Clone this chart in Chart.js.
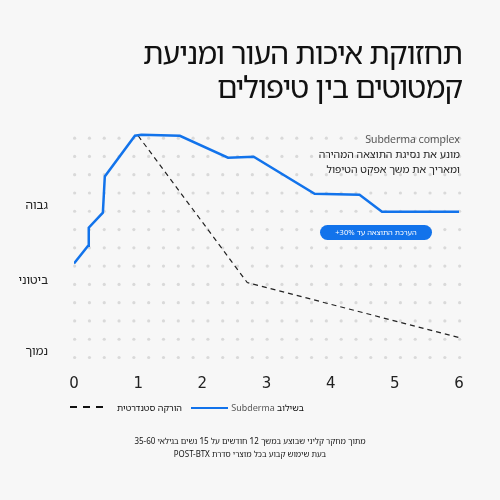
<!DOCTYPE html>
<html><head><meta charset="utf-8">
<script src="https://cdn.jsdelivr.net/npm/chart.js@4.4.0/dist/chart.umd.min.js"></script>
<style>
body{margin:0;background:#f7f7f7;font-family:"Noto Sans Hebrew","Noto Sans","DejaVu Sans",sans-serif;}
#w{position:relative;width:500px;height:500px;}
canvas{position:absolute;left:0;top:0;}
.t{position:absolute;direction:rtl;color:#111;}
</style></head><body>
<div id="w">
<canvas id="c" width="500" height="500"></canvas>
<div class="t" style="right:38px;top:36px;font-size:30px;line-height:34px;letter-spacing:-1px;text-align:right;">תחזוקת איכות העור ומניעת<br>קמטוטים בין טיפולים</div>
<div class="t" style="right:40px;top:132px;font-size:10.5px;line-height:15px;text-align:right;color:#222;"><span style="color:#555">Subderma complex</span><br>מונע את נסיגת התוצאה המהירה<br>ומאריך את משך אפקט הטיפול</div>
<div class="t" style="left:320px;top:225px;width:112px;height:15px;border-radius:8px;background:#1273eb;color:#fff;font-size:7.5px;line-height:15px;text-align:center;">הערכת התוצאה עד 30%+</div>
<div class="t" style="left:236px;width:68px;top:401px;font-size:9px;white-space:nowrap;">בשילוב <span style="color:#555">Subderma</span></div>
<div style="position:absolute;left:191px;top:407px;width:37px;height:2px;background:#1273eb"></div>
<div class="t" style="left:116px;width:66px;top:401px;font-size:9px;white-space:nowrap;">הורקה סטנדרטית</div>
<div style="position:absolute;left:70px;top:406px;width:38px;height:2px;background:repeating-linear-gradient(90deg,#111 0 7px,transparent 7px 13px)"></div>
<div class="t" style="left:0;width:500px;top:434px;font-size:8px;line-height:13px;text-align:center;">מתוך מחקר קליני שבוצע במשך 12 חודשים על 15 נשים בגילאי 35-60<br>בעת שימוש קבוע בכל מוצרי סדרת POST-BTX</div>
</div>
<script>
const xTicks=[0,1,2,3,4,5,6];
const yTickVals=[8.3,4.2,0.3];
const yTickLabels=['גבוה','ביטוני','נמוך'];
const subdermaX=[0,0.22,0.23,0.45,0.48,0.95,1.05,1.65,2.4,2.8,3.75,4.45,4.8,6];
const subdermaY=[5.14,6.12,7.1,7.92,9.9,12.13,12.19,12.13,10.93,10.98,8.96,8.9,7.98,7.98];
const standardX=[1.0,2.7,6];
const standardY=[12.13,4.1,1.09];
const dotCols=27, dotRows=13;
const dotsPlugin={id:'dots',beforeDatasetsDraw(ch){
 const {ctx,scales:{x,y}}=ch;ctx.save();ctx.fillStyle='#d9d9d9';
 for(let i=0;i<dotCols;i++)for(let j=0;j<dotRows;j++){
  const px=x.getPixelForValue(i*6/(dotCols-1)+0.01), py=y.getPixelForValue(j);
  ctx.beginPath();ctx.arc(px,py,1.6,0,Math.PI*2);ctx.fill();}
 ctx.restore();}};
new Chart(document.getElementById('c'),{type:'scatter',
 data:{datasets:[
  {data:subdermaX.map((v,i)=>({x:v,y:subdermaY[i]})),showLine:true,borderColor:'#1273eb',borderWidth:2.5,pointRadius:0,tension:0},
  {data:standardX.map((v,i)=>({x:v,y:standardY[i]})),showLine:true,borderColor:'#222',borderWidth:1.2,borderDash:[5,4],pointRadius:0,tension:0}]},
 options:{responsive:false,animation:false,events:[],
  layout:{padding:{left:14,right:41,top:129,bottom:106}},
  plugins:{legend:{display:false},tooltip:{enabled:false}},
  scales:{
   x:{type:'linear',min:0,max:6,grid:{display:false},border:{display:false},
      afterBuildTicks:s=>{s.ticks=xTicks.map(v=>({value:v}));},
      afterFit:s=>{s.height=31;},
      ticks:{color:'#222',font:{size:15,family:'"DejaVu Sans",sans-serif'},padding:4}},
   y:{min:-0.3,max:12.5,grid:{display:false},border:{display:false},
      afterBuildTicks:s=>{s.ticks=yTickVals.map(v=>({value:v}));},
      afterFit:s=>{s.width=60;},
      ticks:{color:'#222',font:{size:12,family:'"Noto Sans Hebrew","DejaVu Sans",sans-serif'},padding:18,
        callback:(v)=>yTickLabels[yTickVals.indexOf(v)]}}}},
 plugins:[dotsPlugin]});
</script></body></html>
